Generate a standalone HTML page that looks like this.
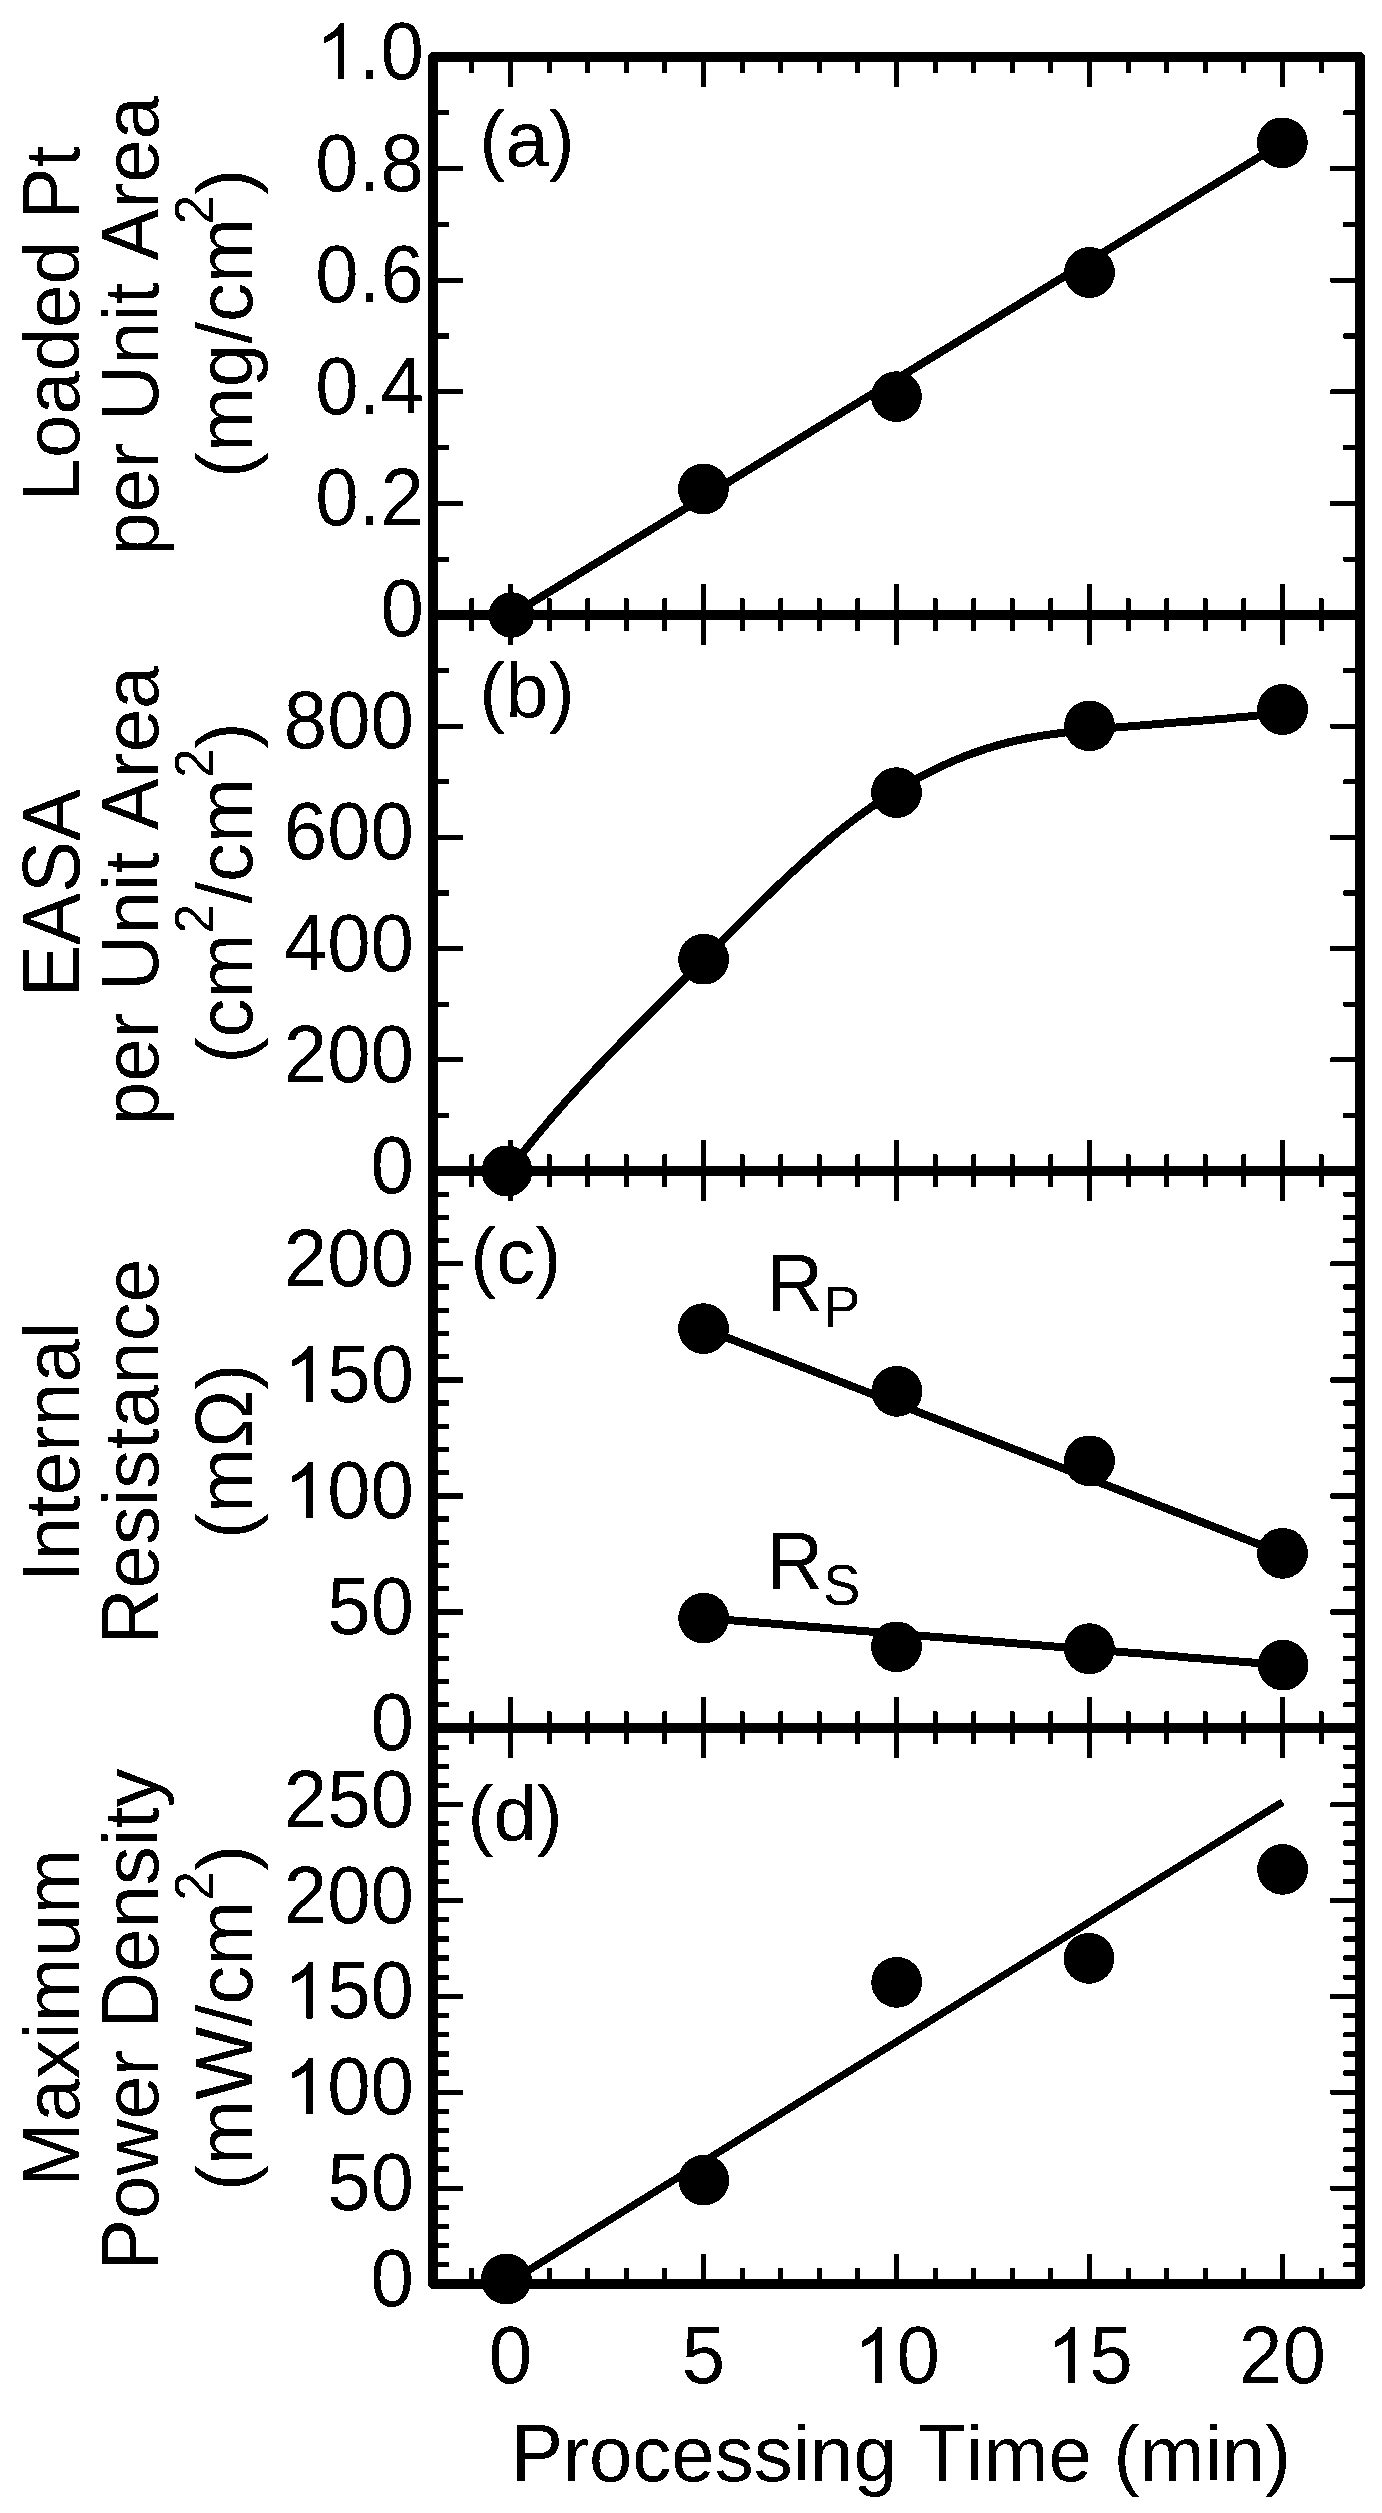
<!DOCTYPE html>
<html><head><meta charset="utf-8"><style>
html,body{margin:0;padding:0;background:#fff;}
svg{display:block;}
text{font-family:"Liberation Sans",sans-serif;font-size:81.2px;fill:#000;font-kerning:none;}
</style></head><body>
<svg width="1382" height="2513" viewBox="0 0 1382 2513">
<defs><filter id="bin" filterUnits="userSpaceOnUse" x="0" y="0" width="1382" height="2513"><feComponentTransfer><feFuncA type="discrete" tableValues="0 1"/></feComponentTransfer></filter></defs>
<rect width="1382" height="2513" fill="#fff"/>
<g filter="url(#bin)">
<rect x="433" y="57" width="927" height="2227" fill="none" stroke="#000" stroke-width="10" stroke-linejoin="round"/>
<line x1="433" y1="615" x2="1360" y2="615" stroke="#000" stroke-width="10"/>
<line x1="433" y1="1171" x2="1360" y2="1171" stroke="#000" stroke-width="10"/>
<line x1="433" y1="1728" x2="1360" y2="1728" stroke="#000" stroke-width="10"/>
<path d="M471.90 57.00L471.90 73.00M471.90 2284.00L471.90 2268.00M471.90 615.00L471.90 598.50M471.90 615.00L471.90 631.00M471.90 1171.00L471.90 1154.50M471.90 1171.00L471.90 1187.00M471.90 1728.00L471.90 1711.50M471.90 1728.00L471.90 1744.00M510.50 57.00L510.50 87.00M510.50 2284.00L510.50 2254.00M510.50 615.00L510.50 584.50M510.50 615.00L510.50 645.00M510.50 1171.00L510.50 1140.50M510.50 1171.00L510.50 1201.00M510.50 1728.00L510.50 1697.50M510.50 1728.00L510.50 1758.00M549.10 57.00L549.10 73.00M549.10 2284.00L549.10 2268.00M549.10 615.00L549.10 598.50M549.10 615.00L549.10 631.00M549.10 1171.00L549.10 1154.50M549.10 1171.00L549.10 1187.00M549.10 1728.00L549.10 1711.50M549.10 1728.00L549.10 1744.00M587.70 57.00L587.70 73.00M587.70 2284.00L587.70 2268.00M587.70 615.00L587.70 598.50M587.70 615.00L587.70 631.00M587.70 1171.00L587.70 1154.50M587.70 1171.00L587.70 1187.00M587.70 1728.00L587.70 1711.50M587.70 1728.00L587.70 1744.00M626.30 57.00L626.30 73.00M626.30 2284.00L626.30 2268.00M626.30 615.00L626.30 598.50M626.30 615.00L626.30 631.00M626.30 1171.00L626.30 1154.50M626.30 1171.00L626.30 1187.00M626.30 1728.00L626.30 1711.50M626.30 1728.00L626.30 1744.00M664.90 57.00L664.90 73.00M664.90 2284.00L664.90 2268.00M664.90 615.00L664.90 598.50M664.90 615.00L664.90 631.00M664.90 1171.00L664.90 1154.50M664.90 1171.00L664.90 1187.00M664.90 1728.00L664.90 1711.50M664.90 1728.00L664.90 1744.00M703.50 57.00L703.50 87.00M703.50 2284.00L703.50 2254.00M703.50 615.00L703.50 584.50M703.50 615.00L703.50 645.00M703.50 1171.00L703.50 1140.50M703.50 1171.00L703.50 1201.00M703.50 1728.00L703.50 1697.50M703.50 1728.00L703.50 1758.00M742.10 57.00L742.10 73.00M742.10 2284.00L742.10 2268.00M742.10 615.00L742.10 598.50M742.10 615.00L742.10 631.00M742.10 1171.00L742.10 1154.50M742.10 1171.00L742.10 1187.00M742.10 1728.00L742.10 1711.50M742.10 1728.00L742.10 1744.00M780.70 57.00L780.70 73.00M780.70 2284.00L780.70 2268.00M780.70 615.00L780.70 598.50M780.70 615.00L780.70 631.00M780.70 1171.00L780.70 1154.50M780.70 1171.00L780.70 1187.00M780.70 1728.00L780.70 1711.50M780.70 1728.00L780.70 1744.00M819.30 57.00L819.30 73.00M819.30 2284.00L819.30 2268.00M819.30 615.00L819.30 598.50M819.30 615.00L819.30 631.00M819.30 1171.00L819.30 1154.50M819.30 1171.00L819.30 1187.00M819.30 1728.00L819.30 1711.50M819.30 1728.00L819.30 1744.00M857.90 57.00L857.90 73.00M857.90 2284.00L857.90 2268.00M857.90 615.00L857.90 598.50M857.90 615.00L857.90 631.00M857.90 1171.00L857.90 1154.50M857.90 1171.00L857.90 1187.00M857.90 1728.00L857.90 1711.50M857.90 1728.00L857.90 1744.00M896.50 57.00L896.50 87.00M896.50 2284.00L896.50 2254.00M896.50 615.00L896.50 584.50M896.50 615.00L896.50 645.00M896.50 1171.00L896.50 1140.50M896.50 1171.00L896.50 1201.00M896.50 1728.00L896.50 1697.50M896.50 1728.00L896.50 1758.00M935.10 57.00L935.10 73.00M935.10 2284.00L935.10 2268.00M935.10 615.00L935.10 598.50M935.10 615.00L935.10 631.00M935.10 1171.00L935.10 1154.50M935.10 1171.00L935.10 1187.00M935.10 1728.00L935.10 1711.50M935.10 1728.00L935.10 1744.00M973.70 57.00L973.70 73.00M973.70 2284.00L973.70 2268.00M973.70 615.00L973.70 598.50M973.70 615.00L973.70 631.00M973.70 1171.00L973.70 1154.50M973.70 1171.00L973.70 1187.00M973.70 1728.00L973.70 1711.50M973.70 1728.00L973.70 1744.00M1012.30 57.00L1012.30 73.00M1012.30 2284.00L1012.30 2268.00M1012.30 615.00L1012.30 598.50M1012.30 615.00L1012.30 631.00M1012.30 1171.00L1012.30 1154.50M1012.30 1171.00L1012.30 1187.00M1012.30 1728.00L1012.30 1711.50M1012.30 1728.00L1012.30 1744.00M1050.90 57.00L1050.90 73.00M1050.90 2284.00L1050.90 2268.00M1050.90 615.00L1050.90 598.50M1050.90 615.00L1050.90 631.00M1050.90 1171.00L1050.90 1154.50M1050.90 1171.00L1050.90 1187.00M1050.90 1728.00L1050.90 1711.50M1050.90 1728.00L1050.90 1744.00M1089.50 57.00L1089.50 87.00M1089.50 2284.00L1089.50 2254.00M1089.50 615.00L1089.50 584.50M1089.50 615.00L1089.50 645.00M1089.50 1171.00L1089.50 1140.50M1089.50 1171.00L1089.50 1201.00M1089.50 1728.00L1089.50 1697.50M1089.50 1728.00L1089.50 1758.00M1128.10 57.00L1128.10 73.00M1128.10 2284.00L1128.10 2268.00M1128.10 615.00L1128.10 598.50M1128.10 615.00L1128.10 631.00M1128.10 1171.00L1128.10 1154.50M1128.10 1171.00L1128.10 1187.00M1128.10 1728.00L1128.10 1711.50M1128.10 1728.00L1128.10 1744.00M1166.70 57.00L1166.70 73.00M1166.70 2284.00L1166.70 2268.00M1166.70 615.00L1166.70 598.50M1166.70 615.00L1166.70 631.00M1166.70 1171.00L1166.70 1154.50M1166.70 1171.00L1166.70 1187.00M1166.70 1728.00L1166.70 1711.50M1166.70 1728.00L1166.70 1744.00M1205.30 57.00L1205.30 73.00M1205.30 2284.00L1205.30 2268.00M1205.30 615.00L1205.30 598.50M1205.30 615.00L1205.30 631.00M1205.30 1171.00L1205.30 1154.50M1205.30 1171.00L1205.30 1187.00M1205.30 1728.00L1205.30 1711.50M1205.30 1728.00L1205.30 1744.00M1243.90 57.00L1243.90 73.00M1243.90 2284.00L1243.90 2268.00M1243.90 615.00L1243.90 598.50M1243.90 615.00L1243.90 631.00M1243.90 1171.00L1243.90 1154.50M1243.90 1171.00L1243.90 1187.00M1243.90 1728.00L1243.90 1711.50M1243.90 1728.00L1243.90 1744.00M1282.50 57.00L1282.50 87.00M1282.50 2284.00L1282.50 2254.00M1282.50 615.00L1282.50 584.50M1282.50 615.00L1282.50 645.00M1282.50 1171.00L1282.50 1140.50M1282.50 1171.00L1282.50 1201.00M1282.50 1728.00L1282.50 1697.50M1282.50 1728.00L1282.50 1758.00M1321.10 57.00L1321.10 73.00M1321.10 2284.00L1321.10 2268.00M1321.10 615.00L1321.10 598.50M1321.10 615.00L1321.10 631.00M1321.10 1171.00L1321.10 1154.50M1321.10 1171.00L1321.10 1187.00M1321.10 1728.00L1321.10 1711.50M1321.10 1728.00L1321.10 1744.00M433.00 559.20L449.00 559.20M1360.00 559.20L1343.50 559.20M433.00 503.40L463.00 503.40M1360.00 503.40L1330.50 503.40M433.00 447.60L449.00 447.60M1360.00 447.60L1343.50 447.60M433.00 391.80L463.00 391.80M1360.00 391.80L1330.50 391.80M433.00 336.00L449.00 336.00M1360.00 336.00L1343.50 336.00M433.00 280.20L463.00 280.20M1360.00 280.20L1330.50 280.20M433.00 224.40L449.00 224.40M1360.00 224.40L1343.50 224.40M433.00 168.60L463.00 168.60M1360.00 168.60L1330.50 168.60M433.00 112.80L449.00 112.80M1360.00 112.80L1343.50 112.80M433.00 1115.40L449.00 1115.40M1360.00 1115.40L1343.50 1115.40M433.00 1059.80L463.00 1059.80M1360.00 1059.80L1330.50 1059.80M433.00 1004.20L449.00 1004.20M1360.00 1004.20L1343.50 1004.20M433.00 948.60L463.00 948.60M1360.00 948.60L1330.50 948.60M433.00 893.00L449.00 893.00M1360.00 893.00L1343.50 893.00M433.00 837.40L463.00 837.40M1360.00 837.40L1330.50 837.40M433.00 781.80L449.00 781.80M1360.00 781.80L1343.50 781.80M433.00 726.20L463.00 726.20M1360.00 726.20L1330.50 726.20M433.00 670.60L449.00 670.60M1360.00 670.60L1343.50 670.60M433.00 1704.79L449.00 1704.79M1360.00 1704.79L1343.50 1704.79M433.00 1681.58L449.00 1681.58M1360.00 1681.58L1343.50 1681.58M433.00 1658.38L449.00 1658.38M1360.00 1658.38L1343.50 1658.38M433.00 1635.17L449.00 1635.17M1360.00 1635.17L1343.50 1635.17M433.00 1611.96L463.00 1611.96M1360.00 1611.96L1330.50 1611.96M433.00 1588.75L449.00 1588.75M1360.00 1588.75L1343.50 1588.75M433.00 1565.54L449.00 1565.54M1360.00 1565.54L1343.50 1565.54M433.00 1542.33L449.00 1542.33M1360.00 1542.33L1343.50 1542.33M433.00 1519.12L449.00 1519.12M1360.00 1519.12L1343.50 1519.12M433.00 1495.92L463.00 1495.92M1360.00 1495.92L1330.50 1495.92M433.00 1472.71L449.00 1472.71M1360.00 1472.71L1343.50 1472.71M433.00 1449.50L449.00 1449.50M1360.00 1449.50L1343.50 1449.50M433.00 1426.29L449.00 1426.29M1360.00 1426.29L1343.50 1426.29M433.00 1403.08L449.00 1403.08M1360.00 1403.08L1343.50 1403.08M433.00 1379.88L463.00 1379.88M1360.00 1379.88L1330.50 1379.88M433.00 1356.67L449.00 1356.67M1360.00 1356.67L1343.50 1356.67M433.00 1333.46L449.00 1333.46M1360.00 1333.46L1343.50 1333.46M433.00 1310.25L449.00 1310.25M1360.00 1310.25L1343.50 1310.25M433.00 1287.04L449.00 1287.04M1360.00 1287.04L1343.50 1287.04M433.00 1263.83L463.00 1263.83M1360.00 1263.83L1330.50 1263.83M433.00 1240.62L449.00 1240.62M1360.00 1240.62L1343.50 1240.62M433.00 1217.42L449.00 1217.42M1360.00 1217.42L1343.50 1217.42M433.00 1194.21L449.00 1194.21M1360.00 1194.21L1343.50 1194.21M433.00 2264.83L449.00 2264.83M1360.00 2264.83L1343.50 2264.83M433.00 2245.66L449.00 2245.66M1360.00 2245.66L1343.50 2245.66M433.00 2226.48L449.00 2226.48M1360.00 2226.48L1343.50 2226.48M433.00 2207.31L449.00 2207.31M1360.00 2207.31L1343.50 2207.31M433.00 2188.14L463.00 2188.14M1360.00 2188.14L1330.50 2188.14M433.00 2168.97L449.00 2168.97M1360.00 2168.97L1343.50 2168.97M433.00 2149.79L449.00 2149.79M1360.00 2149.79L1343.50 2149.79M433.00 2130.62L449.00 2130.62M1360.00 2130.62L1343.50 2130.62M433.00 2111.45L449.00 2111.45M1360.00 2111.45L1343.50 2111.45M433.00 2092.28L463.00 2092.28M1360.00 2092.28L1330.50 2092.28M433.00 2073.10L449.00 2073.10M1360.00 2073.10L1343.50 2073.10M433.00 2053.93L449.00 2053.93M1360.00 2053.93L1343.50 2053.93M433.00 2034.76L449.00 2034.76M1360.00 2034.76L1343.50 2034.76M433.00 2015.59L449.00 2015.59M1360.00 2015.59L1343.50 2015.59M433.00 1996.41L463.00 1996.41M1360.00 1996.41L1330.50 1996.41M433.00 1977.24L449.00 1977.24M1360.00 1977.24L1343.50 1977.24M433.00 1958.07L449.00 1958.07M1360.00 1958.07L1343.50 1958.07M433.00 1938.90L449.00 1938.90M1360.00 1938.90L1343.50 1938.90M433.00 1919.72L449.00 1919.72M1360.00 1919.72L1343.50 1919.72M433.00 1900.55L463.00 1900.55M1360.00 1900.55L1330.50 1900.55M433.00 1881.38L449.00 1881.38M1360.00 1881.38L1343.50 1881.38M433.00 1862.21L449.00 1862.21M1360.00 1862.21L1343.50 1862.21M433.00 1843.03L449.00 1843.03M1360.00 1843.03L1343.50 1843.03M433.00 1823.86L449.00 1823.86M1360.00 1823.86L1343.50 1823.86M433.00 1804.69L463.00 1804.69M1360.00 1804.69L1330.50 1804.69M433.00 1785.52L449.00 1785.52M1360.00 1785.52L1343.50 1785.52M433.00 1766.34L449.00 1766.34M1360.00 1766.34L1343.50 1766.34M433.00 1747.17L449.00 1747.17M1360.00 1747.17L1343.50 1747.17" stroke="#000" stroke-width="5" fill="none"/>
<text transform="translate(423.80,525.40) scale(0.96059,1)" text-anchor="end">0.2</text>
<text transform="translate(423.80,413.80) scale(0.96059,1)" text-anchor="end">0.4</text>
<text transform="translate(423.80,302.20) scale(0.96059,1)" text-anchor="end">0.6</text>
<text transform="translate(423.80,190.60) scale(0.96059,1)" text-anchor="end">0.8</text>
<path transform="translate(315.37,79.00) scale(0.038086,-0.038086)" d="M763 0L583 0L583 1147Q518 1085 412 1023Q307 961 223 930L223 1104Q374 1175 487 1276Q600 1377 647 1472L763 1472Z"/>
<text transform="translate(358.75,79.00) scale(0.96059,1)">.0</text>
<text transform="translate(423.80,635.50) scale(0.96059,1)" text-anchor="end">0</text>
<text transform="translate(414.00,1193.00) scale(0.96059,1)" text-anchor="end">0</text>
<text transform="translate(414.00,1081.80) scale(0.96059,1)" text-anchor="end">200</text>
<text transform="translate(414.00,970.60) scale(0.96059,1)" text-anchor="end">400</text>
<text transform="translate(414.00,859.40) scale(0.96059,1)" text-anchor="end">600</text>
<text transform="translate(414.00,748.20) scale(0.96059,1)" text-anchor="end">800</text>
<text transform="translate(414.00,1750.00) scale(0.96059,1)" text-anchor="end">0</text>
<text transform="translate(414.00,1633.96) scale(0.96059,1)" text-anchor="end">50</text>
<path transform="translate(283.86,1517.92) scale(0.038086,-0.038086)" d="M763 0L583 0L583 1147Q518 1085 412 1023Q307 961 223 930L223 1104Q374 1175 487 1276Q600 1377 647 1472L763 1472Z"/>
<text transform="translate(327.24,1517.92) scale(0.96059,1)">00</text>
<path transform="translate(283.86,1401.88) scale(0.038086,-0.038086)" d="M763 0L583 0L583 1147Q518 1085 412 1023Q307 961 223 930L223 1104Q374 1175 487 1276Q600 1377 647 1472L763 1472Z"/>
<text transform="translate(327.24,1401.88) scale(0.96059,1)">50</text>
<text transform="translate(414.00,1285.83) scale(0.96059,1)" text-anchor="end">200</text>
<text transform="translate(414.00,2306.00) scale(0.96059,1)" text-anchor="end">0</text>
<text transform="translate(414.00,2210.14) scale(0.96059,1)" text-anchor="end">50</text>
<path transform="translate(283.86,2114.28) scale(0.038086,-0.038086)" d="M763 0L583 0L583 1147Q518 1085 412 1023Q307 961 223 930L223 1104Q374 1175 487 1276Q600 1377 647 1472L763 1472Z"/>
<text transform="translate(327.24,2114.28) scale(0.96059,1)">00</text>
<path transform="translate(283.86,2018.41) scale(0.038086,-0.038086)" d="M763 0L583 0L583 1147Q518 1085 412 1023Q307 961 223 930L223 1104Q374 1175 487 1276Q600 1377 647 1472L763 1472Z"/>
<text transform="translate(327.24,2018.41) scale(0.96059,1)">50</text>
<text transform="translate(414.00,1922.55) scale(0.96059,1)" text-anchor="end">200</text>
<text transform="translate(414.00,1826.69) scale(0.96059,1)" text-anchor="end">250</text>
<text transform="translate(510.50,2383.00) scale(0.96059,1)" text-anchor="middle">0</text>
<text transform="translate(703.50,2383.00) scale(0.96059,1)" text-anchor="middle">5</text>
<path transform="translate(853.12,2383.00) scale(0.038086,-0.038086)" d="M763 0L583 0L583 1147Q518 1085 412 1023Q307 961 223 930L223 1104Q374 1175 487 1276Q600 1377 647 1472L763 1472Z"/>
<text transform="translate(896.50,2383.00) scale(0.96059,1)">0</text>
<path transform="translate(1046.12,2383.00) scale(0.038086,-0.038086)" d="M763 0L583 0L583 1147Q518 1085 412 1023Q307 961 223 930L223 1104Q374 1175 487 1276Q600 1377 647 1472L763 1472Z"/>
<text transform="translate(1089.50,2383.00) scale(0.96059,1)">5</text>
<text transform="translate(1282.50,2383.00) scale(0.96059,1)" text-anchor="middle">20</text>
<text transform="translate(901.00,2481.00) translate(-390.08,0.00) scale(0.96059,1)" font-size="81.2" style="font-size:81.2px">P</text>
<text transform="translate(901.00,2481.00) translate(-338.05,0.00) scale(1.01299,1)" font-size="77.0" style="font-size:77.0px">rocessing </text>
<text transform="translate(901.00,2481.00) translate(17.44,0.00) scale(0.96059,1)" font-size="81.2" style="font-size:81.2px">T</text>
<text transform="translate(901.00,2481.00) translate(65.09,0.00) scale(1.01299,1)" font-size="77.0" style="font-size:77.0px">ime (min)</text>
<text transform="translate(79.30,323.60) rotate(-90) translate(-177.82,0.00) scale(0.96059,1)" font-size="81.2" style="font-size:81.2px">L</text>
<text transform="translate(79.30,323.60) rotate(-90) translate(-134.44,0.00) scale(1.01299,1)" font-size="77.0" style="font-size:77.0px">oaded </text>
<text transform="translate(79.30,323.60) rotate(-90) translate(104.13,0.00) scale(0.96059,1)" font-size="81.2" style="font-size:81.2px">P</text>
<text transform="translate(79.30,323.60) rotate(-90) translate(156.15,0.00) scale(1.01299,1)" font-size="77.0" style="font-size:77.0px">t</text>
<text transform="translate(157.80,325.80) rotate(-90) translate(-229.77,0.00) scale(1.01299,1)" font-size="77.0" style="font-size:77.0px">per </text>
<text transform="translate(157.80,325.80) rotate(-90) translate(-95.37,0.00) scale(0.96059,1)" font-size="81.2" style="font-size:81.2px">U</text>
<text transform="translate(157.80,325.80) rotate(-90) translate(-39.04,0.00) scale(1.01299,1)" font-size="77.0" style="font-size:77.0px">nit </text>
<text transform="translate(157.80,325.80) rotate(-90) translate(65.01,0.00) scale(0.96059,1)" font-size="81.2" style="font-size:81.2px">A</text>
<text transform="translate(157.80,325.80) rotate(-90) translate(117.04,0.00) scale(1.01299,1)" font-size="77.0" style="font-size:77.0px">rea</text>
<text transform="translate(251.80,323.50) rotate(-90) translate(-154.58,0.00) scale(1.01299,1)" font-size="77.0" style="font-size:77.0px">(mg/cm</text>
<text transform="translate(251.80,323.50) rotate(-90) translate(98.90,-39.00) scale(0.96059,1)" font-size="55.6" style="font-size:55.6px">2</text>
<text transform="translate(251.80,323.50) rotate(-90) translate(128.60,0.00) scale(1.01299,1)" font-size="77.0" style="font-size:77.0px">)</text>
<text transform="translate(79.30,892.90) rotate(-90) translate(-104.05,0.00) scale(0.96059,1)" font-size="81.2" style="font-size:81.2px">EASA</text>
<text transform="translate(157.80,895.30) rotate(-90) translate(-229.77,0.00) scale(1.01299,1)" font-size="77.0" style="font-size:77.0px">per </text>
<text transform="translate(157.80,895.30) rotate(-90) translate(-95.37,0.00) scale(0.96059,1)" font-size="81.2" style="font-size:81.2px">U</text>
<text transform="translate(157.80,895.30) rotate(-90) translate(-39.04,0.00) scale(1.01299,1)" font-size="77.0" style="font-size:77.0px">nit </text>
<text transform="translate(157.80,895.30) rotate(-90) translate(65.01,0.00) scale(0.96059,1)" font-size="81.2" style="font-size:81.2px">A</text>
<text transform="translate(157.80,895.30) rotate(-90) translate(117.04,0.00) scale(1.01299,1)" font-size="77.0" style="font-size:77.0px">rea</text>
<text transform="translate(251.80,892.90) rotate(-90) translate(-170.49,0.00) scale(1.01299,1)" font-size="77.0" style="font-size:77.0px">(cm</text>
<text transform="translate(251.80,892.90) rotate(-90) translate(-40.54,-39.00) scale(0.96059,1)" font-size="55.6" style="font-size:55.6px">2</text>
<text transform="translate(251.80,892.90) rotate(-90) translate(-10.84,0.00) scale(1.01299,1)" font-size="77.0" style="font-size:77.0px">/cm</text>
<text transform="translate(251.80,892.90) rotate(-90) translate(114.81,-39.00) scale(0.96059,1)" font-size="55.6" style="font-size:55.6px">2</text>
<text transform="translate(251.80,892.90) rotate(-90) translate(144.51,0.00) scale(1.01299,1)" font-size="77.0" style="font-size:77.0px">)</text>
<text transform="translate(79.30,1451.90) rotate(-90) translate(-130.08,0.00) scale(0.96059,1)" font-size="81.2" style="font-size:81.2px">I</text>
<text transform="translate(79.30,1451.90) rotate(-90) translate(-108.41,0.00) scale(1.01299,1)" font-size="77.0" style="font-size:77.0px">nternal</text>
<text transform="translate(157.80,1451.90) rotate(-90) translate(-192.92,0.00) scale(0.96059,1)" font-size="81.2" style="font-size:81.2px">R</text>
<text transform="translate(157.80,1451.90) rotate(-90) translate(-136.60,0.00) scale(1.01299,1)" font-size="77.0" style="font-size:77.0px">esistance</text>
<text transform="translate(251.80,1451.30) rotate(-90) translate(-87.62,0.00) scale(1.01299,1)" font-size="77.0" style="font-size:77.0px">(m</text>
<text transform="translate(251.80,1451.30) rotate(-90) translate(3.33,0.00) scale(0.96059,1)" font-size="81.2" style="font-size:81.2px">Ω</text>
<text transform="translate(251.80,1451.30) rotate(-90) translate(61.64,0.00) scale(1.01299,1)" font-size="77.0" style="font-size:77.0px">)</text>
<text transform="translate(79.30,2018.00) rotate(-90) translate(-169.01,0.00) scale(0.96059,1)" font-size="81.2" style="font-size:81.2px">M</text>
<text transform="translate(79.30,2018.00) rotate(-90) translate(-104.03,0.00) scale(1.01299,1)" font-size="77.0" style="font-size:77.0px">aximum</text>
<text transform="translate(157.80,2019.60) rotate(-90) translate(-251.42,0.00) scale(0.96059,1)" font-size="81.2" style="font-size:81.2px">P</text>
<text transform="translate(157.80,2019.60) rotate(-90) translate(-199.40,0.00) scale(1.01299,1)" font-size="77.0" style="font-size:77.0px">ower </text>
<text transform="translate(157.80,2019.60) rotate(-90) translate(-8.66,0.00) scale(0.96059,1)" font-size="81.2" style="font-size:81.2px">D</text>
<text transform="translate(157.80,2019.60) rotate(-90) translate(47.66,0.00) scale(1.01299,1)" font-size="77.0" style="font-size:77.0px">ensity</text>
<text transform="translate(251.80,2018.00) rotate(-90) translate(-172.95,0.00) scale(1.01299,1)" font-size="77.0" style="font-size:77.0px">(m</text>
<text transform="translate(251.80,2018.00) rotate(-90) translate(-82.00,0.00) scale(0.96059,1)" font-size="81.2" style="font-size:81.2px">W</text>
<text transform="translate(251.80,2018.00) rotate(-90) translate(-8.38,0.00) scale(1.01299,1)" font-size="77.0" style="font-size:77.0px">/cm</text>
<text transform="translate(251.80,2018.00) rotate(-90) translate(117.27,-39.00) scale(0.96059,1)" font-size="55.6" style="font-size:55.6px">2</text>
<text transform="translate(251.80,2018.00) rotate(-90) translate(146.97,0.00) scale(1.01299,1)" font-size="77.0" style="font-size:77.0px">)</text>
<text transform="translate(479.30,165.50) translate(0.00,0.00) scale(1.01299,1)" font-size="77.0" style="font-size:77.0px">(a)</text>
<text transform="translate(479.30,717.50) translate(0.00,0.00) scale(1.01299,1)" font-size="77.0" style="font-size:77.0px">(b)</text>
<text transform="translate(470.30,1283.00) translate(0.00,0.00) scale(1.01299,1)" font-size="77.0" style="font-size:77.0px">(c)</text>
<text transform="translate(467.50,1840.50) translate(0.00,0.00) scale(1.01299,1)" font-size="77.0" style="font-size:77.0px">(d)</text>
<text transform="translate(766.8,1310.8) scale(0.96059,1)">R<tspan font-size="58" dy="16">P</tspan></text>
<text transform="translate(766.8,1589) scale(0.96059,1)">R<tspan font-size="58" dy="16">S</tspan></text>
<path d="M511.5 615.0L1282.3 142.8" fill="none" stroke="#000" stroke-width="8" stroke-linejoin="round"/>
<circle cx="511.5" cy="615" r="22.8"/>
<circle cx="703.4" cy="489" r="25.4"/>
<circle cx="896.4" cy="396.6" r="25.4"/>
<circle cx="1089.5" cy="272.5" r="25.4"/>
<circle cx="1282.3" cy="142.8" r="25.4"/>
<path d="M507.0 1172.8L510.0 1168.9L513.0 1165.0L516.0 1161.2L519.0 1157.4L522.0 1153.6L525.0 1149.9L528.0 1146.2L531.0 1142.5L534.0 1138.8L537.0 1135.2L540.0 1131.6L543.0 1128.0L546.0 1124.5L549.0 1120.9L552.0 1117.4L555.0 1113.9L558.0 1110.5L561.0 1107.0L564.0 1103.6L567.0 1100.2L570.0 1096.9L573.0 1093.5L576.0 1090.2L579.0 1086.9L582.0 1083.6L585.0 1080.4L588.0 1077.1L591.0 1073.9L594.0 1070.7L597.0 1067.5L600.0 1064.4L603.0 1061.2L606.0 1058.1L609.0 1055.0L612.0 1051.9L615.0 1048.8L618.0 1045.7L621.0 1042.7L624.0 1039.6L627.0 1036.6L630.0 1033.5L633.0 1030.5L636.0 1027.5L639.0 1024.5L642.0 1021.5L645.0 1018.5L648.0 1015.5L651.0 1012.5L654.0 1009.5L657.0 1006.6L660.0 1003.6L663.0 1000.6L666.0 997.6L669.0 994.6L672.0 991.6L675.0 988.7L678.0 985.7L681.0 982.7L684.0 979.7L687.0 976.6L690.0 973.6L693.0 970.6L696.0 967.6L699.0 964.5L702.0 961.5L705.0 958.5L708.0 955.4L711.0 952.4L714.0 949.3L717.0 946.3L720.0 943.3L723.0 940.2L726.0 937.2L729.0 934.2L732.0 931.1L735.0 928.1L738.0 925.1L741.0 922.1L744.0 919.0L747.0 916.0L750.0 913.1L753.0 910.1L756.0 907.1L759.0 904.1L762.0 901.2L765.0 898.2L768.0 895.3L771.0 892.4L774.0 889.5L777.0 886.6L780.0 883.7L783.0 880.8L786.0 878.0L789.0 875.2L792.0 872.4L795.0 869.6L798.0 866.8L801.0 864.1L804.0 861.3L807.0 858.6L810.0 856.0L813.0 853.3L816.0 850.7L819.0 848.0L822.0 845.5L825.0 842.9L828.0 840.4L831.0 837.8L834.0 835.4L837.0 832.9L840.0 830.5L843.0 828.1L846.0 825.7L849.0 823.4L852.0 821.1L855.0 818.8L858.0 816.6L861.0 814.4L864.0 812.2L867.0 810.1L870.0 807.9L873.0 805.8L876.0 803.8L879.0 801.8L882.0 799.8L885.0 797.8L888.0 795.8L891.0 793.9L894.0 792.1L897.0 790.2L900.0 788.4L903.0 786.6L906.0 784.8L909.0 783.1L912.0 781.4L915.0 779.7L918.0 778.1L921.0 776.5L924.0 774.9L927.0 773.3L930.0 771.8L933.0 770.3L936.0 768.9L939.0 767.4L942.0 766.0L945.0 764.6L948.0 763.3L951.0 762.0L954.0 760.7L957.0 759.4L960.0 758.2L963.0 757.0L966.0 755.8L969.0 754.7L972.0 753.6L975.0 752.5L978.0 751.5L981.0 750.4L984.0 749.4L987.0 748.5L990.0 747.5L993.0 746.6L996.0 745.8L999.0 744.9L1002.0 744.1L1005.0 743.3L1008.0 742.5L1011.0 741.8L1014.0 741.1L1017.0 740.4L1020.0 739.8L1023.0 739.1L1026.0 738.5L1029.0 738.0L1032.0 737.4L1035.0 736.9L1038.0 736.4L1041.0 735.9L1044.0 735.4L1047.0 734.9L1050.0 734.5L1053.0 734.1L1056.0 733.7L1059.0 733.3L1062.0 732.9L1065.0 732.5L1068.0 732.2L1071.0 731.8L1074.0 731.5L1077.0 731.2L1080.0 730.9L1083.0 730.5L1086.0 730.2L1089.0 729.9L1092.0 729.7L1095.0 729.4L1098.0 729.1L1101.0 728.8L1104.0 728.5L1107.0 728.3L1110.0 728.0L1113.0 727.7L1116.0 727.5L1119.0 727.2L1122.0 726.9L1125.0 726.7L1128.0 726.4L1131.0 726.2L1134.0 725.9L1137.0 725.7L1140.0 725.4L1143.0 725.2L1146.0 725.0L1149.0 724.7L1152.0 724.5L1155.0 724.2L1158.0 724.0L1161.0 723.8L1164.0 723.5L1167.0 723.3L1170.0 723.1L1173.0 722.8L1176.0 722.6L1179.0 722.3L1182.0 722.1L1185.0 721.9L1188.0 721.6L1191.0 721.4L1194.0 721.2L1197.0 720.9L1200.0 720.7L1203.0 720.4L1206.0 720.2L1209.0 719.9L1212.0 719.7L1215.0 719.4L1218.0 719.2L1221.0 718.9L1224.0 718.7L1227.0 718.4L1230.0 718.1L1233.0 717.9L1236.0 717.6L1239.0 717.3L1242.0 717.0L1245.0 716.7L1248.0 716.5L1251.0 716.2L1254.0 715.9L1257.0 715.6L1260.0 715.3L1263.0 714.9L1266.0 714.6L1269.0 714.3L1272.0 714.0L1275.0 713.7L1278.0 713.3L1281.0 713.0L1282.6 712.8" fill="none" stroke="#000" stroke-width="8" stroke-linejoin="round"/>
<circle cx="507" cy="1171" r="25.4"/>
<circle cx="703.6" cy="959.2" r="25.4"/>
<circle cx="896.5" cy="792.6" r="25.4"/>
<circle cx="1089.5" cy="725.9" r="25.4"/>
<circle cx="1282.6" cy="709.5" r="25.4"/>
<path d="M703.5 1328.6L1282.5 1553.5" fill="none" stroke="#000" stroke-width="8" stroke-linejoin="round"/>
<circle cx="703.5" cy="1328.6" r="25.4"/>
<circle cx="896.9" cy="1391.3" r="25.4"/>
<circle cx="1089.5" cy="1460.8" r="25.4"/>
<circle cx="1282.5" cy="1553.3" r="25.4"/>
<path d="M703.6 1618.1L1283.1 1665.1" fill="none" stroke="#000" stroke-width="8" stroke-linejoin="round"/>
<circle cx="703.6" cy="1618.1" r="25.4"/>
<circle cx="896.5" cy="1646.8" r="25.4"/>
<circle cx="1089.4" cy="1648.7" r="25.4"/>
<circle cx="1283.1" cy="1665.1" r="25.4"/>
<path d="M506.4 2284.0L1282.7 1802.0" fill="none" stroke="#000" stroke-width="7.5" stroke-linejoin="round"/>
<circle cx="506.4" cy="2279" r="25.4"/>
<circle cx="703.8" cy="2180.1" r="25.4"/>
<circle cx="896.7" cy="1982.3" r="25.4"/>
<circle cx="1089" cy="1958.3" r="25.4"/>
<circle cx="1282.6" cy="1869.4" r="25.4"/>
</g>
</svg>
</body></html>
